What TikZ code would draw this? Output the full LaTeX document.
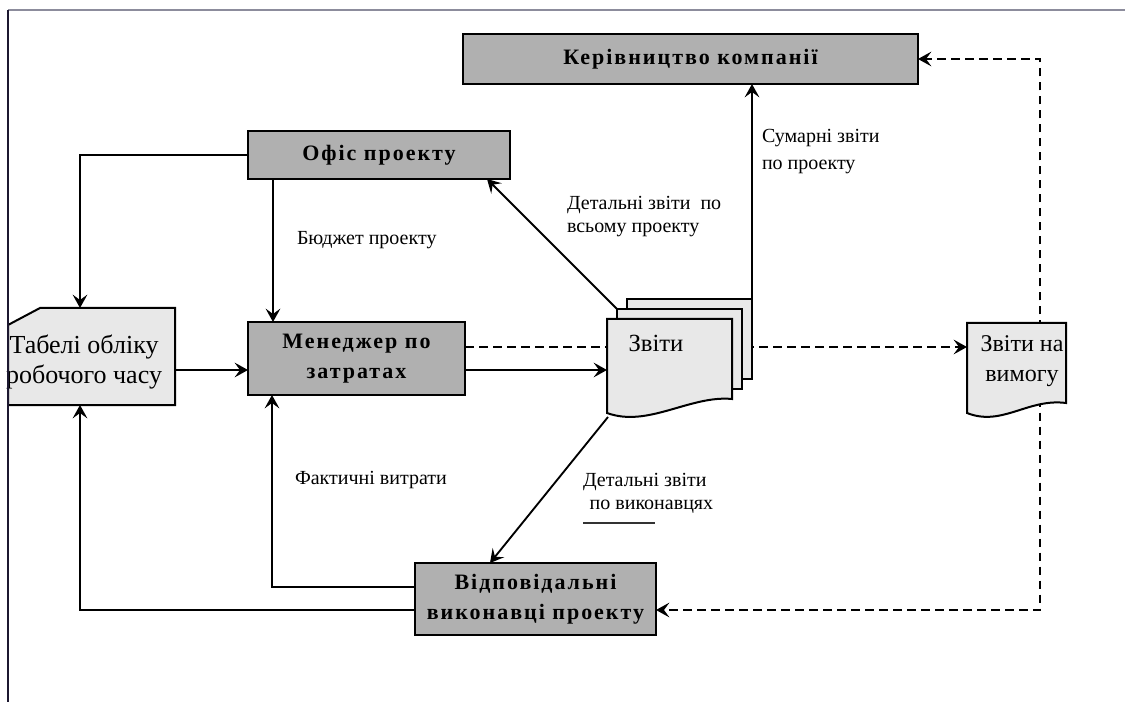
\documentclass[tikz,border=0pt]{standalone}
\usepackage{fontspec}
\setmainfont{Liberation Serif}
\newfontfamily\boxfont[LetterSpace=9]{Liberation Serif}
\usetikzlibrary{arrows.meta,calc}

\definecolor{boxgray}{HTML}{B0B0B0}
\definecolor{docgray}{HTML}{E8E8E8}
\definecolor{framegray}{HTML}{8C8C9C}
\definecolor{frameink}{HTML}{1C1830}

\begin{document}
\begin{tikzpicture}[x=0.75pt,y=-0.75pt,
  every node/.style={inner sep=0pt,outer sep=0pt},
  unitbox/.style={draw=black,line width=1.5pt,fill=boxgray,align=center,
    font=\boxfont\bfseries\fontsize{16.5}{22.5}\selectfont},
  docshape/.style={draw=black,line width=1.5pt,fill=docgray},
  doctext/.style={font=\fontsize{18.5}{23}\selectfont,align=center},
  label/.style={font=\fontsize{15}{17.5}\selectfont,align=left,anchor=west},
  link/.style={draw=black,line width=1.4pt},
  arr/.style={link,-{Stealth[length=10pt,width=11pt,inset=4pt]}},
  dasharr/.style={arr,dash pattern=on 6.5pt off 4pt}]

\useasboundingbox (0,0) rectangle (1125,702);

% process units
\node[unitbox,minimum width=341.25pt,minimum height=37.5pt] (kerivn) at (690.5,59) {Керівництво компанії};
\node[unitbox,minimum width=196.5pt,minimum height=36pt] (ofis) at (379,155) {Офіс проекту};
\node[unitbox,minimum width=162.75pt,minimum height=54.75pt] (menedzher) at (356.5,358.5) {Менеджер по\\затратах};
\node[unitbox,minimum width=180.75pt,minimum height=54pt] (vidpov) at (535.5,599) {Відповідальні\\виконавці проекту};

% anchor frames of the documents
\node[minimum width=125.25pt,minimum height=72.75pt] (tabeli) at (91.5,356.5) {};
\node[minimum width=93.75pt,minimum height=74.25pt] (zvA) at (669.5,368.5) {};
\node[minimum width=93.75pt,minimum height=60pt] (zvB) at (679.5,349) {};
\node[minimum width=93.75pt,minimum height=60pt] (zvC) at (689.5,339) {};
\node[minimum width=74.25pt,minimum height=71.25pt] (zvnavym) at (1016.5,370.5) {};

% dashed flows running behind the documents
\draw[dasharr] ($(menedzher.east)+(0,-11.5)$) -- ($(zvnavym.west)+(0,-23.5)$);
\draw[dasharr] ($(zvnavym.center)+(23.5,0)$) |- (kerivn.east);
\draw[dasharr] ($(zvnavym.center)+(23.5,0)$) |- ($(vidpov.east)+(0,11)$);

% documents
\draw[docshape] (8,325) -- (40,308) -- (175,308) -- (175,405) -- (8,405) -- cycle;
\node[doctext,font=\fontsize{19.5}{23}\selectfont] at (84,362) {Табелі обліку\\робочого часу};

\draw[docshape] (zvC.north west) rectangle (zvC.south east);
\draw[docshape] (zvB.north west) rectangle (zvB.south east);
\draw[docshape] (zvA.north west) -- (zvA.north east) -- (732,399)
  .. controls (690,395) and (648,428) .. (607,413) -- cycle;
\node[doctext] at (656,343) {Звіти};

\draw[docshape] (zvnavym.north west) -- (zvnavym.north east) -- (1066,403)
  .. controls (1028,398) and (1002,427) .. (967,413) -- cycle;
\node[doctext,font=\fontsize{18}{22.5}\selectfont] at (1022,361) {Звіти на\\вимогу};

% solid flows
\draw[arr] (ofis.west) -| ($(tabeli.north)+(-11.5,0)$);
\draw[arr] ($(ofis.south west)+(25,0)$) -- ($(menedzher.north west)+(25,0)$);
\draw[arr] ($(tabeli.east)+(0,13.5)$) -- ($(menedzher.west)+(0,11.5)$);
\draw[arr] ($(menedzher.east)+(0,11.5)$) -- ($(zvA.west)+(0,1.5)$);
\draw[arr] ($(vidpov.west)+(0,-12)$) -| ($(menedzher.south west)+(24,0)$);
\draw[arr] ($(vidpov.west)+(0,11)$) -| ($(tabeli.south)+(-11.5,0)$);
\draw[arr] (zvB.north west) -- ($(ofis.south east)+(-23,0)$);
\draw[arr] (zvC.north east) -- (zvC.north east |- kerivn.south);
\draw[arr] ($(zvA.south west)+(1,-1)$) -- ($(vidpov.north west)+(75,0)$);

% flow labels
\node[label] (lbudget) at (297,240) {Бюджет проекту};
\node[label] (lfact) at (295,480) {Фактичні витрати};
\node[label] (ldetall) at (567,216.5) {Детальні звіти\ \ по\\всьому проекту};
\node[label,font=\fontsize{15}{20}\selectfont] (lsum) at (762,151.5) {Сумарні звіти\\по проекту};
\node[label] (ldetexec) at (583,493.5) {Детальні звіти\\\hspace*{5pt}по виконавцях};
\draw[line width=1pt,black!80] (583,523) -- (655,523);

% page frame
\draw[framegray,line width=1.5pt] (8,10.5) -- (1125,10.5);
\draw[frameink,line width=1.5pt] (8.3,10) -- (8.3,702);
\end{tikzpicture}
\end{document}
